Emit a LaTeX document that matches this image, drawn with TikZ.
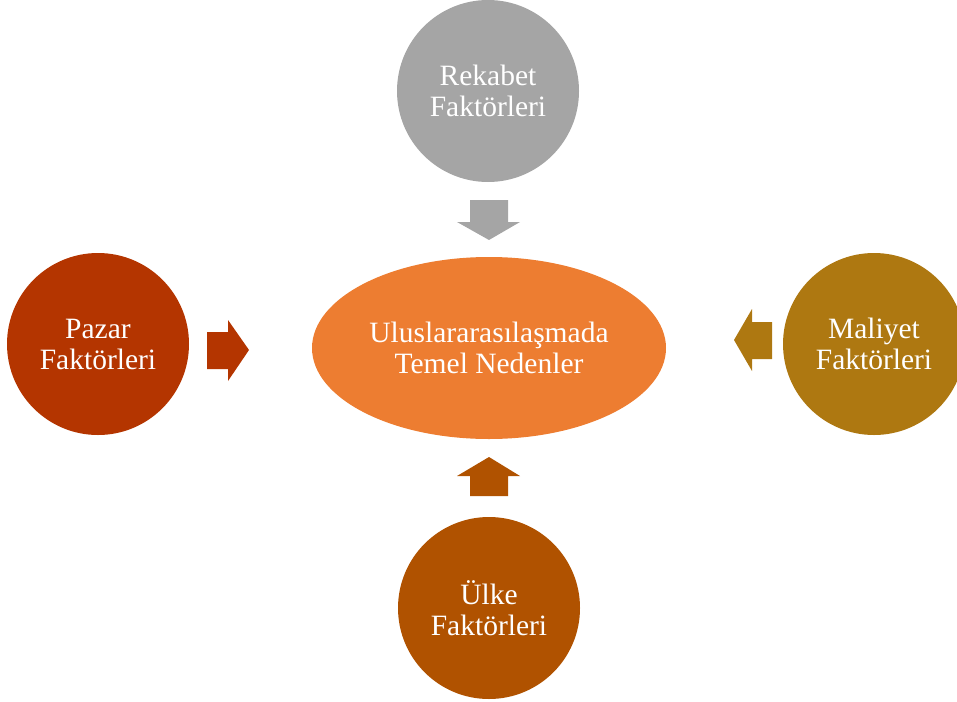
\documentclass[tikz,border=0pt]{standalone}
\usepackage{fontspec}
\setmainfont{Liberation Serif}
\usetikzlibrary{shapes.geometric}
\definecolor{cgray}{HTML}{A5A5A5}
\definecolor{cpazar}{HTML}{B43500}
\definecolor{cmaliyet}{HTML}{AE7811}
\definecolor{culke}{HTML}{B05200}
\definecolor{ccenter}{HTML}{ED7D31}
\tikzset{
  factor/.style={circle, minimum size=182pt, inner sep=0pt, text=white,
    align=center, font=\fontsize{29.5}{31}\selectfont},
  blockarrow/.style={draw=none}
}
\begin{document}
\begin{tikzpicture}[x=1pt,y=-1pt]
\useasboundingbox (0,0) rectangle (957,701);
\clip (0,0) rectangle (957,701);
\node[factor, fill=cgray] (rekabet) at (488,91) {Rekabet\\Faktörleri};
\node[factor, fill=cpazar] (pazar) at (98,344) {Pazar\\Faktörleri};
\node[factor, fill=cmaliyet] (maliyet) at (874,344) {Maliyet\\Faktörleri};
\node[factor, fill=culke] (ulke) at (489,608) {Ülke\\Faktörleri};
\node[ellipse, minimum width=354pt, minimum height=182pt, inner sep=0pt,
  fill=ccenter, text=white, align=center, font=\fontsize{29.5}{31}\selectfont]
  (center) at (489,348) {Uluslararasılaşmada\\Temel Nedenler};
% block arrows
\fill[cgray] (470,200) -- (508,200) -- (508,222) -- (520,222) -- (489,240)
  -- (457,222) -- (470,222) -- cycle;
\fill[culke] (489,457) -- (520,476) -- (508,476) -- (508,496) -- (470,496)
  -- (470,476) -- (457,476) -- cycle;
\fill[cpazar] (207,332) -- (228,332) -- (228,320) -- (249,350) -- (228,381)
  -- (228,369) -- (207,369) -- cycle;
\fill[cmaliyet] (734,340) -- (752,309) -- (752,322) -- (772,322) -- (772,359)
  -- (752,359) -- (752,371) -- cycle;
\end{tikzpicture}
\end{document}
